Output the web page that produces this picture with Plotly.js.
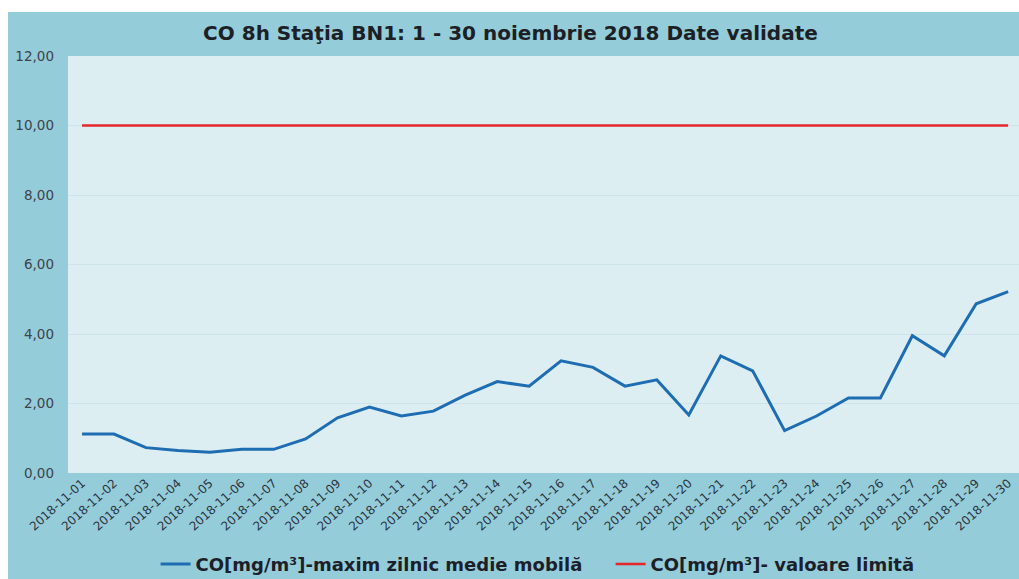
<!DOCTYPE html>
<html>
<head>
<meta charset="utf-8">
<script src="https://cdn.plot.ly/plotly-3.0.1.min.js"></script>
<style>
  html, body { margin: 0; padding: 0; background: #ffffff; }
  #plot_div { position: absolute; left: 8px; top: 12px; width: 1011px; height: 567px; }
</style>
</head>
<body>
<div id="plot_div"></div>
<script>
// daily dates for November 2018
const days = [
    '2018-11-01','2018-11-02','2018-11-03','2018-11-04','2018-11-05','2018-11-06',
    '2018-11-07','2018-11-08','2018-11-09','2018-11-10','2018-11-11','2018-11-12',
    '2018-11-13','2018-11-14','2018-11-15','2018-11-16','2018-11-17','2018-11-18',
    '2018-11-19','2018-11-20','2018-11-21','2018-11-22','2018-11-23','2018-11-24',
    '2018-11-25','2018-11-26','2018-11-27','2018-11-28','2018-11-29','2018-11-30'
];
// CO max daily 8h moving average, mg/m3
const co_max = [
    1.12, 1.12, 0.73, 0.65, 0.60, 0.68, 0.68, 0.98, 1.59, 1.90,
    1.64, 1.78, 2.24, 2.63, 2.50, 3.23, 3.04, 2.50, 2.68, 1.67,
    3.37, 2.94, 1.22, 1.64, 2.16, 2.16, 3.95, 3.37, 4.87, 5.22
];
// limit value, mg/m3
const co_limit = days.map(() => 10);

const trace_names = ['CO[mg/m³]-maxim zilnic medie mobilă', 'CO[mg/m³]- valoare limită'];

const data = [
    {
        x: days, y: co_max, name: trace_names[0],
        type: 'scatter', mode: 'lines',
        line: {color: '#1e6db3', width: 3},
    },
    {
        x: days, y: co_limit, name: trace_names[1],
        type: 'scatter', mode: 'lines',
        line: {color: '#e5262b', width: 2.5},
    },
];

const layout = {
    width: 1011,
    height: 567,
    margin: {l: 60, r: 0, t: 44, b: 106},
    paper_bgcolor: '#94ccd9',
    plot_bgcolor: '#ddeef3',
    separators: ',.',
    font: {family: 'DejaVu Sans, Liberation Sans, Arial, sans-serif', color: '#3a3f48'},
    title: {
        text: '<b>CO 8h Staţia BN1: 1 - 30 noiembrie 2018 Date validate</b>',
        font: {family: 'DejaVu Sans, Arial, sans-serif', size: 20, color: '#1c1f26'},
        x: 0.497, xanchor: 'center',
        y: 0.963, yanchor: 'middle',
        yref: 'container',
    },
    xaxis: {
        type: 'category',
        range: [-0.44, 29.34],
        tickangle: -42,
        tickfont: {size: 12, color: '#2b3340'},
        showgrid: false,
        zeroline: false,
        showline: false,
        ticks: '',
        fixedrange: true,
    },
    yaxis: {
        range: [0, 12],
        dtick: 2,
        tickformat: '.2f',
        tickfont: {size: 13.5, color: '#3d434c'},
        gridcolor: '#cde4ea',
        gridwidth: 1,
        zeroline: false,
        showline: false,
        ticks: '',
        ticklabelstandoff: 13,
        fixedrange: true,
    },
    showlegend: true,
    legend: {
        orientation: 'h',
        xref: 'container', yref: 'container',
        x: 0.146, xanchor: 'left',
        y: 0.026, yanchor: 'middle',
        entrywidth: 410,
        font: {size: 18, color: '#1c1f2a', family: 'DejaVu Sans, Arial, sans-serif', weight: 'bold'},
        bgcolor: 'rgba(0,0,0,0)',
        itemwidth: 30,
    },
};

const config = {responsive: false, displayModeBar: false, staticPlot: true};

Plotly.newPlot('plot_div', data, layout, config);
</script>
</body>
</html>
